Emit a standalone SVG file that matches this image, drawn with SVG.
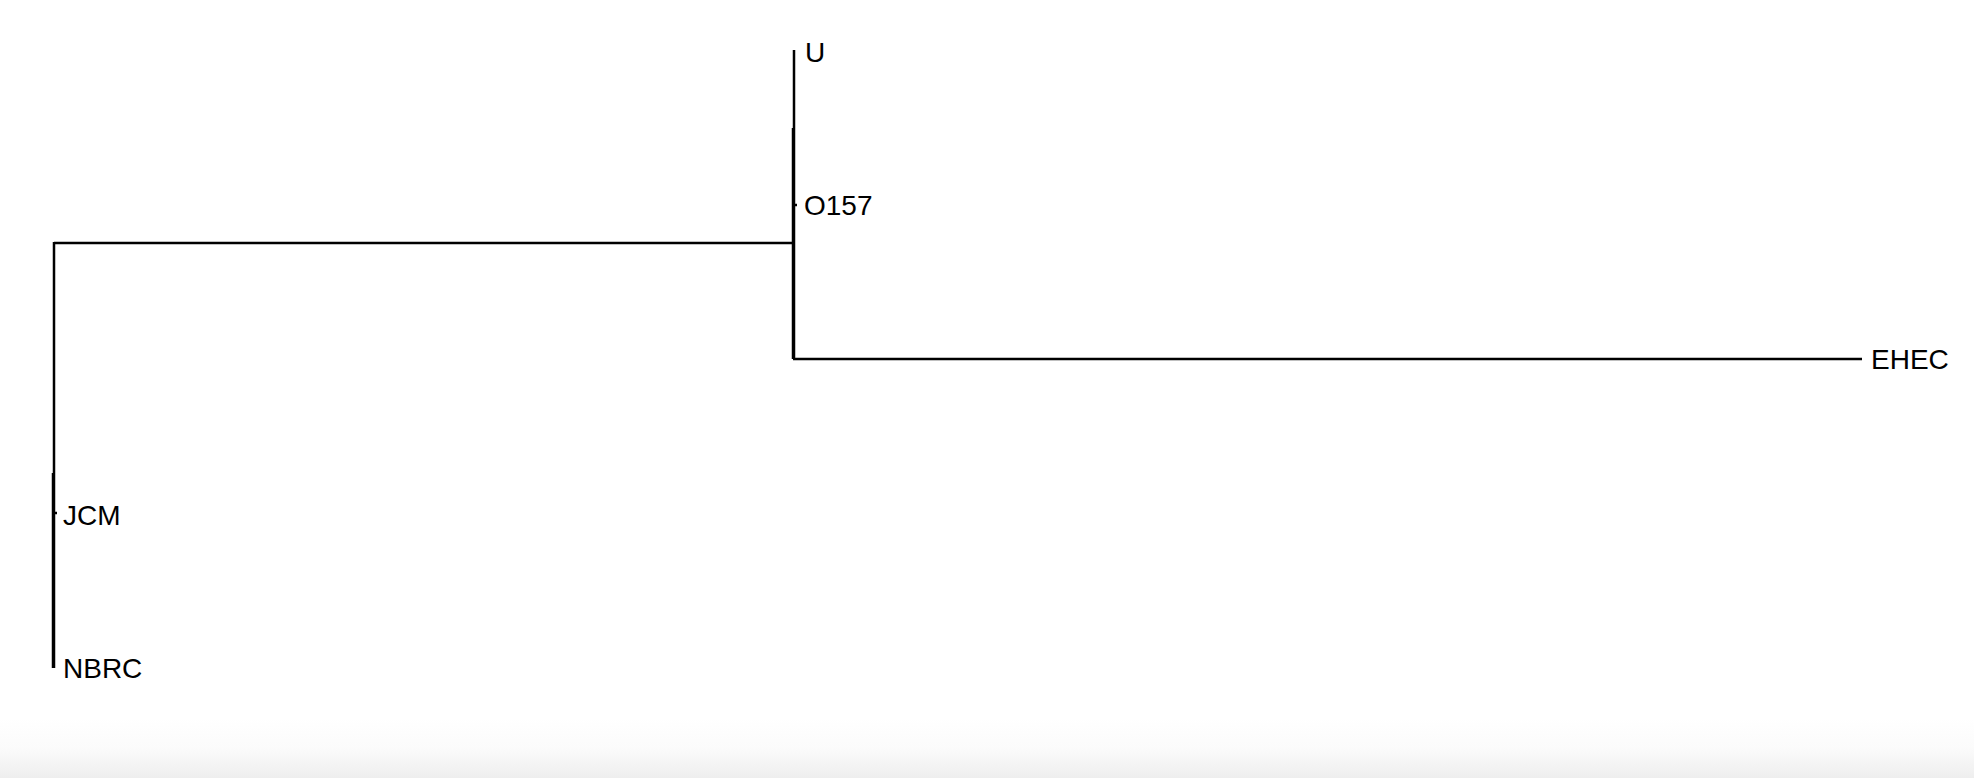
<svg xmlns="http://www.w3.org/2000/svg" width="1974" height="778" viewBox="0 0 1974 778">
<defs>
<linearGradient id="fade" x1="0" y1="0" x2="0" y2="1">
<stop offset="0" stop-color="#ffffff"/>
<stop offset="0.5" stop-color="#fbfbfb"/>
<stop offset="1" stop-color="#eeeeee"/>
</linearGradient>
<style>
.br{stroke:#000;stroke-width:2.5;fill:none;stroke-linecap:butt}
.lb{font-family:"Liberation Sans",Arial,sans-serif;font-size:28px;fill:#000}
</style>
</defs>
<rect width="1974" height="778" fill="#fff"/>
<rect x="0" y="718" width="1974" height="60" fill="url(#fade)"/>
<g id="connectors">
<line class="br" x1="54" y1="243" x2="794" y2="243"/>
<line class="br" x1="54" y1="242" x2="54" y2="668"/>
<line class="br" x1="53" y1="473" x2="53" y2="668"/>
<line class="br" x1="794" y1="50" x2="794" y2="359"/>
<line class="br" x1="793" y1="128" x2="793" y2="359"/>
<line class="br" x1="793" y1="359" x2="1862" y2="359"/>
<line class="br" x1="794" y1="205" x2="797" y2="205"/>
<line class="br" x1="54" y1="513" x2="57" y2="513"/>
</g>
<g id="node-U"><text class="lb" x="805" y="62">U</text></g>
<g id="node-O157"><text class="lb" x="804" y="215">O157</text></g>
<g id="node-EHEC"><text class="lb" x="1871" y="369">EHEC</text></g>
<g id="node-JCM"><text class="lb" x="63" y="525">JCM</text></g>
<g id="node-NBRC"><text class="lb" x="63" y="678">NBRC</text></g>
</svg>
